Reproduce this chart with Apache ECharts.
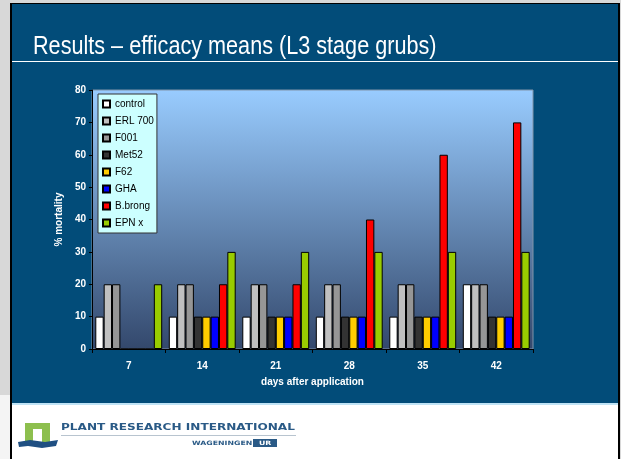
<!DOCTYPE html>
<html>
<head>
<meta charset="utf-8">
<style>
  html, body { margin: 0; padding: 0; background: #ffffff; }
  #chart { width: 621px; height: 459px; }
</style>
<script src="https://cdn.jsdelivr.net/npm/echarts@6/dist/echarts.min.js"></script>
</head>
<body>
<div id="chart"></div>
<script>
// data
const days = ['7', '14', '21', '28', '35', '42']
const control = [10, 10, 10, 10, 10, 20]
const erl700 = [20, 20, 20, 20, 20, 20]
const f001 = [20, 20, 20, 20, 20, 20]
const met52 = [0, 10, 10, 10, 10, 10]
const f62 = [0, 10, 10, 10, 10, 10]
const gha = [0, 10, 10, 10, 10, 10]
const bBrong = [0, 20, 20, 40, 60, 70]
const epnX = [20, 30, 30, 30, 30, 30]

const seriesNames = ['control', 'ERL 700', 'F001', 'Met52', 'F62', 'GHA', 'B.brong', 'EPN x']
const seriesData = [control, erl700, f001, met52, f62, gha, bBrong, epnX]
const seriesColors = ['#ffffff', '#c0c0c0', '#969696', '#333333', '#ffcc00', '#0000ff', '#ff0000', '#99cc00']

const slideBlue = '#024c79'
const logoBlue = '#2a5a86'
const font = 'Liberation Sans, Arial, sans-serif'
const chart = echarts.init(document.getElementById('chart'))

const option = {
  animation: false,
  backgroundColor: '#ffffff',
  graphic: [
    // slide frame
    { type: 'rect', shape: { x: 0, y: 0, width: 621, height: 459 }, style: { fill: '#d8d8d8' }, z: -10 },
    { type: 'rect', shape: { x: 0, y: 395, width: 10, height: 64 }, style: { fill: '#f4f4f4' }, z: -10 },
    { type: 'rect', shape: { x: 10, y: 3, width: 610, height: 456 }, style: { fill: '#000000' }, z: -9 },
    { type: 'rect', shape: { x: 12, y: 4, width: 606, height: 455 }, style: { fill: '#ffffff' }, z: -8 },
    { type: 'rect', shape: { x: 12, y: 4, width: 606, height: 399 }, style: { fill: slideBlue }, z: -7 },
    { type: 'rect', shape: { x: 12, y: 403, width: 606, height: 2 }, style: { fill: '#bfe3f5' }, z: -7 },
    // title, squeezed to look like a narrow face
    {
      type: 'text',
      x: 33,
      y: 35,
      scaleX: 0.865,
      style: {
        text: 'Results – efficacy means (L3 stage grubs)',
        fill: '#ffffff',
        font: '25px "Liberation Sans", Arial, sans-serif'
      },
      z: 5
    },
    { type: 'line', shape: { x1: 12, y1: 61.5, x2: 618, y2: 61.5 }, style: { stroke: '#ffffff', lineWidth: 1 }, z: 5 },
    // footer logo
    { type: 'rect', shape: { x: 25, y: 423, width: 25, height: 19 }, style: { fill: '#8dbf4e' }, z: 5 },
    { type: 'rect', shape: { x: 33, y: 429, width: 9, height: 13 }, style: { fill: '#ffffff' }, z: 6 },
    {
      type: 'polygon',
      shape: { points: [[18, 442], [30, 440], [45, 442], [58, 440], [56, 446], [42, 448], [28, 446], [19, 447]] },
      style: { fill: '#1f4f82' },
      z: 6
    },
    {
      type: 'text',
      x: 61,
      y: 424,
      scaleX: 1.51,
      style: {
        text: 'PLANT RESEARCH INTERNATIONAL',
        fill: logoBlue,
        font: 'bold 8px "DejaVu Sans", sans-serif'
      },
      z: 5
    },
    { type: 'line', shape: { x1: 61, y1: 435.5, x2: 296, y2: 435.5 }, style: { stroke: '#b8c4cf', lineWidth: 1 }, z: 5 },
    {
      type: 'text',
      x: 192,
      y: 440,
      scaleX: 1.3,
      style: {
        text: 'WAGENINGEN',
        fill: logoBlue,
        font: 'bold 6px "DejaVu Sans", sans-serif'
      },
      z: 5
    },
    { type: 'rect', shape: { x: 253, y: 439, width: 24, height: 8 }, style: { fill: logoBlue }, z: 5 },
    {
      type: 'text',
      x: 259,
      y: 440,
      scaleX: 1.3,
      style: { text: 'UR', fill: '#ffffff', font: 'bold 6px "DejaVu Sans", sans-serif' },
      z: 6
    }
  ],
  legend: {
    orient: 'vertical',
    left: 98,
    top: 94,
    backgroundColor: '#ccffff',
    borderColor: '#333333',
    borderWidth: 1,
    padding: [4, 3, 4, 4],
    itemWidth: 7,
    itemHeight: 7,
    itemGap: 5,
    icon: 'rect',
    textStyle: { color: '#000000', fontSize: 10, fontFamily: font, lineHeight: 12 },
    data: seriesNames
  },
  grid: {
    left: 92,
    right: 88,
    top: 90,
    bottom: 110,
    show: true,
    borderColor: '#8094aa',
    borderWidth: 1,
    backgroundColor: new echarts.graphic.LinearGradient(0, 0, 0, 1, [
      { offset: 0, color: '#99ccff' },
      { offset: 1, color: '#33486c' }
    ])
  },
  xAxis: {
    type: 'category',
    data: days,
    name: 'days after application',
    nameLocation: 'middle',
    nameGap: 28,
    nameTextStyle: { color: '#ffffff', fontWeight: 'bold', fontSize: 10, fontFamily: font },
    axisLine: { lineStyle: { color: '#000000', width: 1 } },
    axisTick: { show: true, alignWithLabel: false, length: 4, lineStyle: { color: '#000000' } },
    axisLabel: { color: '#ffffff', fontWeight: 'bold', fontSize: 10, margin: 12, fontFamily: font }
  },
  yAxis: {
    type: 'value',
    min: 0,
    max: 80,
    interval: 10,
    name: '% mortality',
    nameLocation: 'middle',
    nameGap: 27,
    nameRotate: 90,
    nameTextStyle: { color: '#ffffff', fontWeight: 'bold', fontSize: 10, fontFamily: font },
    axisLine: { show: true, lineStyle: { color: '#000000', width: 1 } },
    axisTick: { show: true, length: 3, lineStyle: { color: '#000000' } },
    axisLabel: { color: '#ffffff', fontWeight: 'bold', fontSize: 10, margin: 6, fontFamily: font },
    splitLine: { show: false }
  },
  series: seriesNames.map((name, i) => ({
    name: name,
    type: 'bar',
    data: seriesData[i],
    barGap: '0%',
    barCategoryGap: '9%',
    itemStyle: { color: seriesColors[i], borderColor: '#000000', borderWidth: 1 }
  }))
}

chart.setOption(option)
</script>
</body>
</html>
